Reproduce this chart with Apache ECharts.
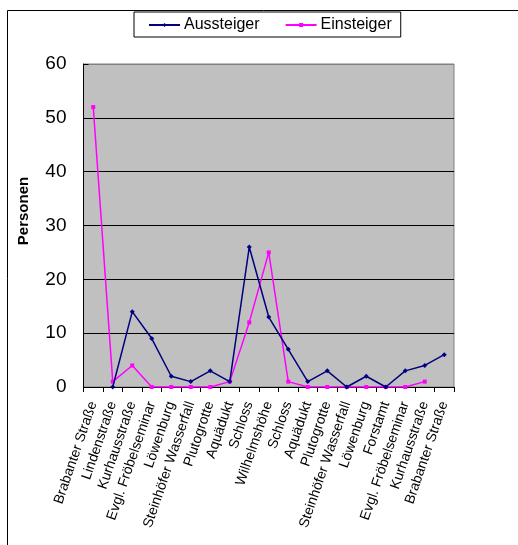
<!DOCTYPE html>
<html>
<head>
<meta charset="utf-8">
<script src="https://cdn.jsdelivr.net/npm/echarts@6/dist/echarts.min.js"></script>
<style>
  html, body { margin: 0; padding: 0; background: #fff; }
  #chart { width: 518px; height: 545px; }
</style>
</head>
<body>
<div id="chart"></div>
<script>
// Stops along the route (there and back)
const stops = [
  'Brabanter Straße', 'Lindenstraße', 'Kurhausstraße', 'Evgl. Fröbelseminar',
  'Löwenburg', 'Steinhöfer Wasserfall', 'Plutogrotte', 'Aquädukt', 'Schloss',
  'Wilhelmshöhe', 'Schloss', 'Aquädukt', 'Plutogrotte', 'Steinhöfer Wasserfall',
  'Löwenburg', 'Forstamt', 'Evgl. Fröbelseminar', 'Kurhausstraße', 'Brabanter Straße'
];

// Persons leaving the bus at each stop
const aussteiger = [null, 0, 14, 9, 2, 1, 3, 1, 26, 13, 7, 1, 3, 0, 2, 0, 3, 4, 6];

// Persons boarding the bus at each stop
const einsteiger = [52, 1, 4, 0, 0, 0, 0, 1, 12, 25, 1, 0, 0, 0, 0, 0, 0, 1, null];

// Value axis
const yMin = 0, yMax = 60, yStep = 10;

const font = 'Arial, "Liberation Sans", sans-serif';

const chart = echarts.init(document.getElementById('chart'), null, { renderer: 'canvas' });

chart.setOption({
  animation: false,
  backgroundColor: '#ffffff',
  textStyle: { fontFamily: font },
  graphic: [
    {
      type: 'rect',
      shape: { x: 7.5, y: 10.5, width: 530, height: 560 },
      style: { fill: 'none', stroke: '#000', lineWidth: 1 },
      z: -1
    },
    {
      type: 'text',
      x: 24, y: 211,
      rotation: Math.PI / 2,
      style: {
        text: 'Personen',
        font: 'bold 15px ' + font,
        fill: '#000',
        textAlign: 'center',
        textVerticalAlign: 'middle'
      }
    }
  ],
  legend: {
    left: 134,
    top: 12,
    padding: [5, 9, 4, 14],
    itemGap: 25,
    itemWidth: 31,
    itemHeight: 5,
    borderColor: '#000',
    borderWidth: 1,
    backgroundColor: '#fff',
    textStyle: { fontSize: 16, color: '#000', fontFamily: font, padding: [0, 0, 0, -1] },
    data: ['Aussteiger', 'Einsteiger']
  },
  grid: {
    left: 83.5,
    top: 64,
    right: 64,
    bottom: 158,
    show: true,
    backgroundColor: '#C0C0C0',
    borderColor: '#808080',
    borderWidth: 1
  },
  xAxis: {
    type: 'category',
    data: stops,
    boundaryGap: true,
    axisLine: { lineStyle: { color: '#000', width: 1 } },
    axisTick: { show: true, inside: false, length: 5, alignWithLabel: false, lineStyle: { color: '#000' } },
    axisLabel: {
      interval: 0,
      rotate: 71,
      margin: 15,
      fontSize: 14,
      color: '#000',
      fontFamily: font
    }
  },
  yAxis: {
    type: 'value',
    min: yMin,
    max: yMax,
    interval: yStep,
    axisLine: { show: true, lineStyle: { color: '#000', width: 1 } },
    axisTick: { show: true, inside: true, length: 5, lineStyle: { color: '#000' } },
    axisLabel: { fontSize: 19, color: '#000', margin: 17, fontFamily: font },
    splitLine: {
      show: true,
      lineStyle: { color: ['#000', '#000', '#000', '#000', '#000', '#000', '#808080'], width: 1 }
    }
  },
  series: [
    {
      name: 'Aussteiger',
      type: 'line',
      data: aussteiger,
      connectNulls: false,
      symbol: 'diamond',
      symbolSize: 5,
      showAllSymbol: true,
      color: '#000080',
      lineStyle: { color: '#000080', width: 1.5 },
      itemStyle: { color: '#000080' },
      z: 3
    },
    {
      name: 'Einsteiger',
      type: 'line',
      data: einsteiger,
      connectNulls: false,
      symbol: 'rect',
      symbolSize: 4,
      showAllSymbol: true,
      color: '#FF00FF',
      lineStyle: { color: '#FF00FF', width: 1.5 },
      itemStyle: { color: '#FF00FF' },
      z: 2
    }
  ]
});
</script>
</body>
</html>
